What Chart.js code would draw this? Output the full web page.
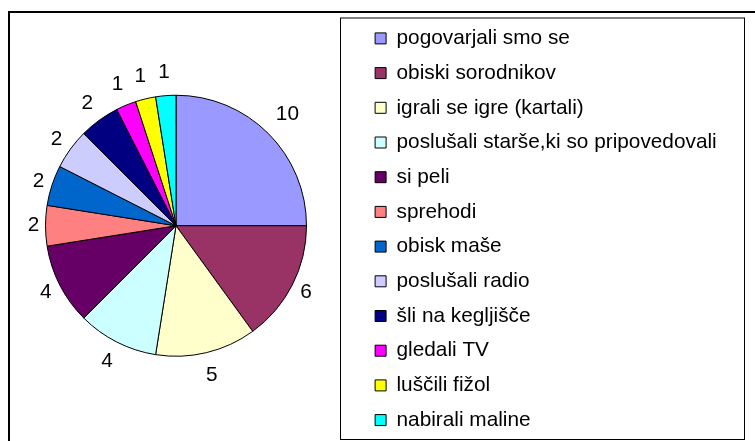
<!DOCTYPE html>
<html>
<head>
<meta charset="utf-8">
<script src="https://cdn.jsdelivr.net/npm/chart.js@4"></script>
<style>
  html, body { margin: 0; padding: 0; background: #fff; }
  #wrap { position: relative; width: 755px; height: 441px; overflow: hidden; }
</style>
</head>
<body>
<div id="wrap"><canvas id="c" width="755" height="441"></canvas></div>
<script>
const categories = [
  'pogovarjali smo se',
  'obiski sorodnikov',
  'igrali se igre (kartali)',
  'poslušali starše,ki so pripovedovali',
  'si peli',
  'sprehodi',
  'obisk maše',
  'poslušali radio',
  'šli na kegljišče',
  'gledali TV',
  'luščili fižol',
  'nabirali maline'
];
const values = [10, 6, 5, 4, 4, 2, 2, 2, 2, 1, 1, 1];
const colors = [
  '#9999FF', '#993366', '#FFFFCC', '#CCFFFF', '#660066', '#FF8080',
  '#0066CC', '#CCCCFF', '#000080', '#FF00FF', '#FFFF00', '#00FFFF'
];

const FONT_FAMILY = '"Liberation Sans", Arial, sans-serif';
const FONT_SIZE = 20.8;
const LEGEND_W = 392;     // layout width of legend (chart area = left part)
const LEGEND_DX = 9.2;    // shift of legend items inside their frame
const LEGEND_DY = 3.5;

const framePlugin = {
  id: 'frames',
  beforeLayout(chart) {
    const lg = chart.legend;
    if (lg && !lg._patched) {
      const orig = lg.fit;
      lg.fit = function () { orig.call(this); this.width = LEGEND_W; };
      lg._patched = true;
    }
  },
  afterLayout(chart) {
    const lg = chart.legend;
    lg.left += LEGEND_DX; lg.right += LEGEND_DX;
    lg.top += LEGEND_DY; lg.bottom += LEGEND_DY;
  },
  beforeDraw(chart) {
    const ctx = chart.ctx;
    ctx.save();
    ctx.strokeStyle = '#000';
    ctx.lineWidth = 2;
    ctx.strokeRect(9, 12, 900, 600);
    ctx.restore();
  },
  afterDraw(chart) {
    const lg = chart.legend;
    const ctx = chart.ctx;
    ctx.save();
    ctx.strokeStyle = '#000';
    ctx.lineWidth = 1;
    const left = lg.left - 20.7;
    const right = lg.right - LEGEND_DX + 0.5;
    const top = lg.top + 4;
    const bottom = lg.bottom - 5;
    ctx.strokeRect(left, top, right - left, bottom - top);
    ctx.restore();
  }
};

const labelPlugin = {
  id: 'sliceLabels',
  afterDatasetsDraw(chart) {
    const ctx = chart.ctx;
    const meta = chart.getDatasetMeta(0);
    const data = chart.data.datasets[0].data;
    ctx.save();
    ctx.font = FONT_SIZE + 'px ' + FONT_FAMILY;
    ctx.fillStyle = '#000';
    ctx.textAlign = 'center';
    ctx.textBaseline = 'middle';
    const digitW = ctx.measureText('0').width;
    meta.data.forEach((arc, i) => {
      const p = arc.getProps(['x', 'y', 'startAngle', 'endAngle', 'outerRadius'], true);
      const mid = (p.startAngle + p.endAngle) / 2;
      const c = Math.cos(mid), s = Math.sin(mid);
      const text = String(data[i]);
      const w = ctx.measureText(text).width;
      const dist = p.outerRadius + 12 + 11.5 * Math.pow(Math.abs(s), 1.5) + (w - digitW) * Math.abs(c);
      ctx.fillText(text, p.x + dist * c, p.y + dist * s);
    });
    ctx.restore();
  }
};

new Chart(document.getElementById('c'), {
  type: 'pie',
  data: {
    labels: categories,
    datasets: [{
      data: values,
      backgroundColor: colors,
      borderColor: '#000',
      borderWidth: 1,
      radius: 130.5
    }]
  },
  options: {
    responsive: false,
    animation: false,
    events: [],
    layout: { padding: { left: 0, right: 11, top: 10.5, bottom: 0 } },
    plugins: {
      tooltip: { enabled: false },
      legend: {
        position: 'right',
        align: 'center',
        labels: {
          boxWidth: 11,
          boxHeight: 11,
          padding: 13.9,
          color: '#000',
          font: { family: FONT_FAMILY, size: FONT_SIZE }
        }
      }
    }
  },
  plugins: [framePlugin, labelPlugin]
});
</script>
</body>
</html>
